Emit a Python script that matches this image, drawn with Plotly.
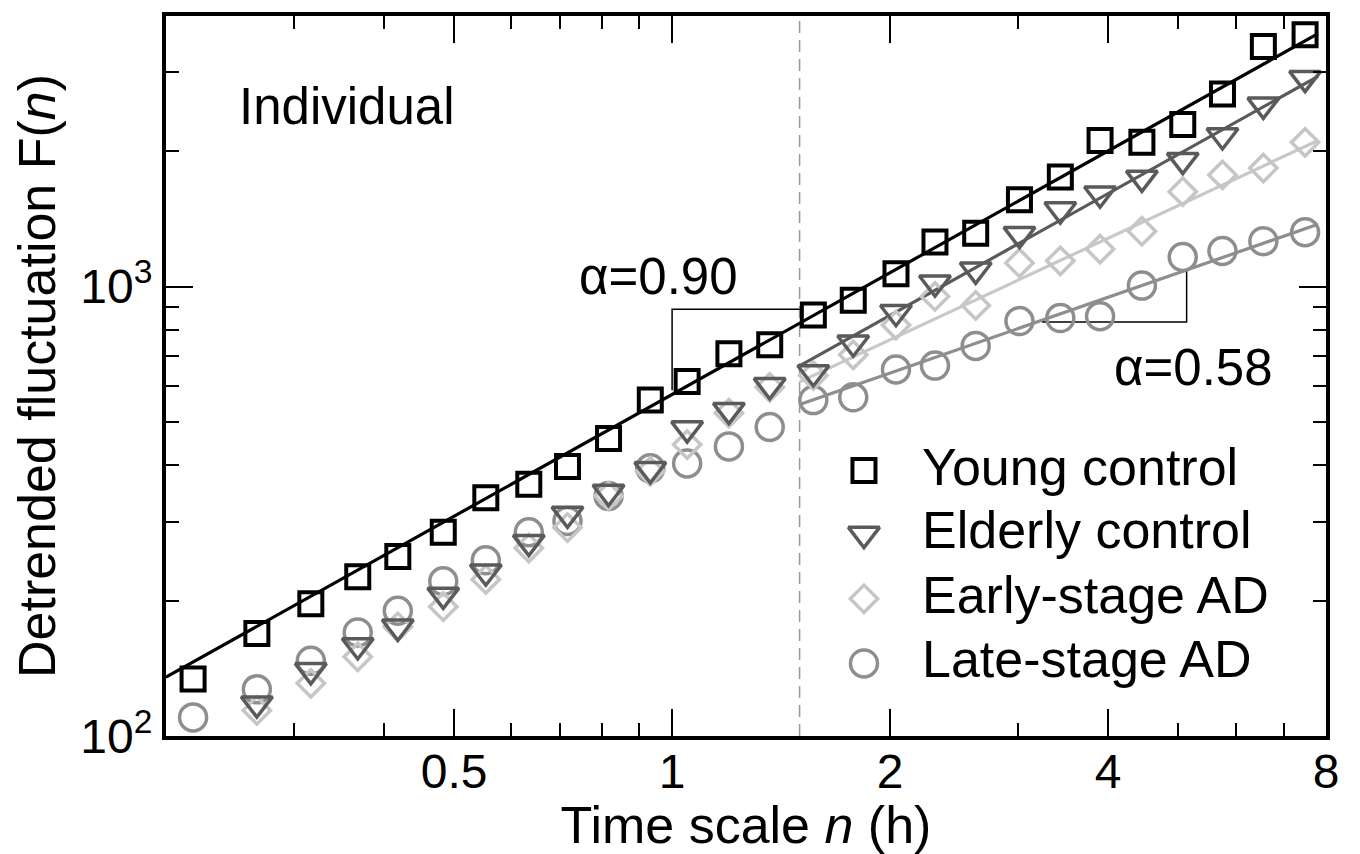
import math
import plotly.graph_objects as go

# ---------------- data ----------------
time_h = [0.218, 0.267, 0.317, 0.368, 0.418, 0.483, 0.553, 0.634, 0.717, 0.817,
          0.933, 1.049, 1.198, 1.364, 1.567, 1.779, 2.038, 2.307, 2.626, 3.018,
          3.437, 3.900, 4.455, 5.073, 5.756, 6.555, 7.485]

young_control = [134, 169, 197, 226, 251, 284, 339, 363, 398, 459,
                 559, 615, 709, 742, 864, 932, 1068, 1256, 1314, 1561,
                 1754, 2115, 2094, 2293, 2683, 3421, 3635]
elderly_control = [None, 118, 140, 159, 175, 206, 232, 270, 312, 349,
                   392, 483, 531, 603, 644, 750, 877, 1020, 1090, 1308,
                   1484, 1609, 1745, 1911, 2169, 2537, 2909]
early_stage_ad = [None, 114, 131, 150, 175, 194, 223, 262, 291, 342,
                  388, 445, 523, 597, 634, 705, 821, 951, 908, 1129,
                  1141, 1212, 1328, 1626, 1772, 1835, 2094]
late_stage_ad = [110, 127, 147, 170, 190, 221, 246, 284, 301, 342,
                 394, 404, 441, 487, 559, 567, 654, 667, 738, 838,
                 851, 859, 1005, 1164, 1200, 1262, 1321]

group_names = ["Young control", "Elderly control", "Early-stage AD", "Late-stage AD"]
group_values = [young_control, elderly_control, early_stage_ad, late_stage_ad]

# power-law fits F = 10^logc * n^alpha drawn over [start, end]
fit_alpha = [0.90, 0.90, 0.75, 0.56]
fit_log_c = [2.760, 2.665, 2.656, 2.639]
fit_start_h = [0.2, 1.5, 1.5, 1.5]
fit_end_h = [7.8, 7.8, 7.8, 7.8]

# slope brackets
bracket_a_x = [1.0, 1.0, 1.5]
bracket_a_y = [588, 890, 890]
bracket_b_x = [3.245, 5.136, 5.136]
bracket_b_y = [834, 834, 1084]
crossover_h = 1.5

x_tick_vals = [0.5, 1, 2, 4, 8]
x_tick_text = ["0.5", "1", "2", "4", "8"]
x_minor_vals = [0.3, 0.4, 0.6, 0.7, 0.8, 0.9, 3, 5, 6, 7]
y_tick_vals = [100, 1000]
y_tick_text = ["10<sup>2</sup>", "10<sup>3</sup>"]
y_minor_vals = [200, 300, 400, 500, 600, 700, 800, 900, 2000, 3000]

# ---------------- styles ----------------
symbols = ["square-open", "triangle-down-open", "diamond-open", "circle-open"]
marker_colors = ["#000000", "#5a5a5a", "#c6c6c6", "#8e8e8e"]
line_colors = ["#000000", "#5a5a5a", "#c8c8c8", "#8e8e8e"]
marker_sizes = [23, 27, 21, 27]
marker_lw = [4, 3.5, 3.5, 3.5]
FONT = "Liberation Sans, Arial, Helvetica, sans-serif"

fig = go.Figure()

# fit lines
for i in range(4):
    xs = [fit_start_h[i], fit_end_h[i]]
    ys = [10 ** fit_log_c[i] * x ** fit_alpha[i] for x in xs]
    fig.add_trace(go.Scatter(x=xs, y=ys, mode="lines", showlegend=False,
                             line=dict(color=line_colors[i], width=3.2),
                             hoverinfo="skip"))

# slope brackets
for bx, by in [(bracket_a_x, bracket_a_y), (bracket_b_x, bracket_b_y)]:
    fig.add_trace(go.Scatter(x=bx, y=by, mode="lines", showlegend=False,
                             line=dict(color="#000000", width=1.5), hoverinfo="skip"))

# data markers (late drawn first, young last)
for i in [3, 2, 1, 0]:
    fig.add_trace(go.Scatter(
        x=time_h, y=group_values[i], mode="markers", name=group_names[i],
        showlegend=False,
        marker=dict(symbol=symbols[i], size=marker_sizes[i], color=marker_colors[i],
                    line=dict(color=marker_colors[i], width=marker_lw[i]))))

# custom legend (overlay axes in unit coordinates)
legend_x = 0.6017
legend_rows = [0.3688, 0.2804, 0.1906, 0.1008]
legend_text_rows = [0.3743, 0.2859, 0.1961, 0.1063]
legend_text_x = 0.6496
for i in range(4):
    fig.add_trace(go.Scatter(
        x=[legend_x], y=[legend_rows[i]], xaxis="x2", yaxis="y2", mode="markers",
        showlegend=False, hoverinfo="skip",
        marker=dict(symbol=symbols[i], size=marker_sizes[i], color=marker_colors[i],
                    line=dict(color=marker_colors[i], width=marker_lw[i]))))

annotations = []
for i in range(4):
    annotations.append(dict(x=legend_text_x, y=legend_text_rows[i], xref="x2", yref="y2",
                            text=group_names[i], showarrow=False, xanchor="left",
                            yanchor="middle", font=dict(family=FONT, size=52, color="black")))
annotations.append(dict(x=0.0613, y=0.8743, xref="paper", yref="paper", text="Individual",
                        showarrow=False, xanchor="left", yanchor="middle",
                        font=dict(family=FONT, size=51, color="black")))
annotations.append(dict(x=math.log10(0.738), y=math.log10(1052), xref="x", yref="y",
                        text="α=0.90", showarrow=False, xanchor="left", yanchor="middle",
                        font=dict(family=FONT, size=51, color="black")))
annotations.append(dict(x=math.log10(4.05), y=math.log10(660), xref="x", yref="y",
                        text="α=0.58", showarrow=False, xanchor="left", yanchor="middle",
                        font=dict(family=FONT, size=51, color="black")))

axis_common = dict(showline=True, linewidth=4, linecolor="black", mirror="allticks",
                   ticks="inside", tickwidth=2, tickcolor="black", ticklen=27,
                   showgrid=False, zeroline=False,
                   tickfont=dict(family=FONT, size=48, color="black"))

fig.update_layout(
    width=1352, height=846,
    margin=dict(l=158, r=34, t=4, b=118),
    paper_bgcolor="white", plot_bgcolor="white",
    font=dict(family=FONT, color="black"),
    xaxis=dict(type="log", range=[math.log10(0.2), math.log10(8)],
               tickmode="array", tickvals=x_tick_vals, ticktext=x_tick_text,
               ticklabelstandoff=-10,
               minor=dict(tickmode="array", tickvals=x_minor_vals, ticks="inside",
                          ticklen=13, tickwidth=2, tickcolor="black", showgrid=False),
               title=dict(text="Time scale <i>n</i> (h)",
                          font=dict(family=FONT, size=52, color="black"), standoff=0),
               **axis_common),
    yaxis=dict(type="log", range=[2, math.log10(4000)],
               tickmode="array", tickvals=y_tick_vals, ticktext=y_tick_text,
               minor=dict(tickmode="array", tickvals=y_minor_vals, ticks="inside",
                          ticklen=13, tickwidth=2, tickcolor="black", showgrid=False),
               title=dict(text="Detrended fluctuation F(<i>n</i>)",
                          font=dict(family=FONT, size=52, color="black"), standoff=10),
               **axis_common),
    xaxis2=dict(overlaying="x", anchor="y2", range=[0, 1], visible=False, fixedrange=True),
    yaxis2=dict(overlaying="y", anchor="x2", range=[0, 1], visible=False, fixedrange=True),
    annotations=annotations,
    shapes=[dict(type="line", xref="x", yref="paper", x0=crossover_h, x1=crossover_h,
                 y0=0, y1=1, line=dict(color="#999999", width=1.5, dash="12px,7px"),
                 layer="below")],
    showlegend=False,
)

fig.write_html("out.html")
